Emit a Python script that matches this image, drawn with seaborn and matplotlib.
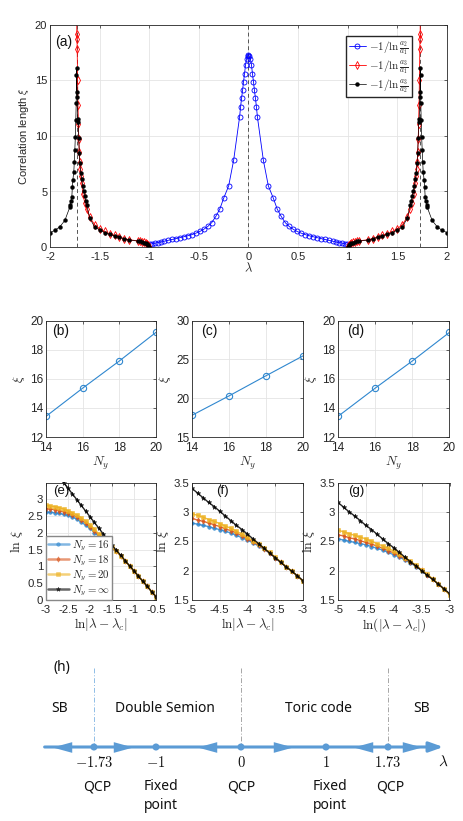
import matplotlib
matplotlib.use("Agg")
import matplotlib.pyplot as plt
from matplotlib.ticker import FuncFormatter
import seaborn as sns

# ---------------- (a) correlation length vs lambda ----------------
lam_blue = [-0.99, -0.97, -0.94, -0.91, -0.88, -0.85, -0.81, -0.77, -0.73, -0.69,
            -0.65, -0.61, -0.57, -0.53, -0.49, -0.45, -0.41, -0.37, -0.33, -0.29,
            -0.25, -0.20, -0.15, -0.09, -0.08, -0.07, -0.06, -0.05, -0.04, -0.03,
            -0.02, -0.01, 0.0, 0.01, 0.02, 0.03, 0.04, 0.05, 0.06, 0.07,
            0.08, 0.09, 0.15, 0.20, 0.25, 0.29, 0.33, 0.37, 0.41, 0.45,
            0.49, 0.53, 0.57, 0.61, 0.65, 0.69, 0.73, 0.77, 0.81, 0.85,
            0.88, 0.91, 0.94, 0.97, 0.99]
xi_blue = [0.25, 0.3, 0.35, 0.4, 0.46, 0.52, 0.6, 0.68, 0.76, 0.85,
           0.93, 1.02, 1.12, 1.25, 1.4, 1.6, 1.85, 2.2, 2.75, 3.4,
           4.4, 5.5, 7.8, 11.7, 12.6, 13.4, 14.1, 14.9, 15.6, 16.4,
           16.9, 17.2, 17.3, 17.2, 16.9, 16.4, 15.6, 14.9, 14.1, 13.4,
           12.6, 11.7, 7.8, 5.5, 4.4, 3.4, 2.75, 2.2, 1.85, 1.6,
           1.4, 1.25, 1.12, 1.02, 0.93, 0.85, 0.76, 0.68, 0.6, 0.52,
           0.46, 0.4, 0.35, 0.3, 0.25]

lam_red_l = [-1.732, -1.73, -1.728, -1.726, -1.722, -1.718, -1.714, -1.71, -1.705, -1.70,
             -1.695, -1.69, -1.68, -1.67, -1.65, -1.63, -1.6, -1.55, -1.5, -1.45,
             -1.4, -1.35, -1.3, -1.25, -1.2, -1.11, -1.09, -1.07, -1.05, -1.03,
             -1.02, -1.01, -1.0]
xi_red_l = [40.0, 19.2, 18.7, 17.8, 15.0, 12.8, 11.1, 9.7, 8.6, 7.7,
            7.0, 6.4, 5.8, 4.8, 4.0, 3.4, 2.7, 2.0, 1.65, 1.4,
            1.2, 1.05, 0.9, 0.76, 0.65, 0.55, 0.52, 0.48, 0.43, 0.36,
            0.28, 0.18, 0.05]
lam_red_r = [1.0, 1.01, 1.02, 1.03, 1.05, 1.07, 1.09, 1.11, 1.2, 1.25,
             1.3, 1.35, 1.4, 1.45, 1.5, 1.55, 1.6, 1.63, 1.65, 1.67,
             1.68, 1.69, 1.695, 1.70, 1.705, 1.71, 1.714, 1.718, 1.722, 1.726,
             1.728, 1.73, 1.732]
xi_red_r = [0.05, 0.18, 0.28, 0.36, 0.43, 0.48, 0.52, 0.55, 0.65, 0.76,
            0.9, 1.05, 1.2, 1.4, 1.65, 2.0, 2.7, 3.4, 4.0, 4.8,
            5.8, 6.4, 7.0, 7.7, 8.6, 9.7, 11.1, 12.8, 15.0, 17.8,
            18.7, 19.2, 40.0]

lam_blk_l = [-2.0, -1.95, -1.90, -1.85, -1.80, -1.795, -1.79, -1.78, -1.775, -1.77,
             -1.76, -1.755, -1.75, -1.745, -1.74, -1.736, -1.733, -1.731, -1.728, -1.725,
             -1.72, -1.715, -1.71, -1.705, -1.70, -1.69, -1.68, -1.67, -1.66, -1.65,
             -1.64, -1.63, -1.6, -1.55, -1.5, -1.45, -1.4, -1.35, -1.3, -1.25,
             -1.2, -1.11, -1.09, -1.07, -1.05, -1.03, -1.02, -1.01, -1.0]
xi_blk_l = [1.3, 1.5, 1.83, 2.4, 3.6, 3.8, 4.1, 4.5, 5.4, 6.0,
            6.8, 7.7, 8.7, 9.9, 11.4, 13.0, 15.5, 16.1, 14.0, 13.5,
            11.5, 11.3, 9.8, 8.5, 7.6, 6.7, 6.1, 5.5, 5.0, 4.6,
            4.1, 3.8, 2.6, 1.8, 1.55, 1.3, 1.15, 1.0, 0.87, 0.73,
            0.62, 0.53, 0.5, 0.45, 0.4, 0.33, 0.25, 0.15, 0.02]
lam_blk_r = [1.0, 1.01, 1.02, 1.03, 1.05, 1.07, 1.09, 1.11, 1.2, 1.25,
             1.3, 1.35, 1.4, 1.45, 1.5, 1.55, 1.6, 1.63, 1.64, 1.65,
             1.66, 1.67, 1.68, 1.69, 1.70, 1.705, 1.71, 1.715, 1.72, 1.725,
             1.728, 1.731, 1.733, 1.736, 1.74, 1.745, 1.75, 1.755, 1.76, 1.77,
             1.775, 1.78, 1.79, 1.795, 1.80, 1.85, 1.90, 1.95, 2.0]
xi_blk_r = [0.02, 0.15, 0.25, 0.33, 0.4, 0.45, 0.5, 0.53, 0.62, 0.73,
            0.87, 1.0, 1.15, 1.3, 1.55, 1.8, 2.6, 3.8, 4.1, 4.6,
            5.0, 5.5, 6.1, 6.7, 7.6, 8.5, 9.8, 11.3, 11.5, 13.5,
            14.0, 16.1, 15.5, 13.0, 11.4, 9.9, 8.7, 7.7, 6.8, 6.0,
            5.4, 4.5, 4.1, 3.8, 3.6, 2.4, 1.83, 1.5, 1.3]
lam_critical = [-1.732, 0.0, 1.732]
legend_a = [r'$-1/\ln\frac{a_2}{a_1}$', r'$-1/\ln\frac{a_3}{a_1}$', r'$-1/\ln\frac{a_3}{a_2}$']

# ---------------- (b)-(d) xi vs Ny ----------------
ny = [14, 16, 18, 20]
xi_b = [13.42, 15.36, 17.23, 19.2]
xi_c = [17.8, 20.3, 22.9, 25.46]
xi_d = [13.42, 15.36, 17.23, 19.2]

# ---------------- (e)-(g) ln xi vs ln|lambda - lambda_c| ----------------
x_e = [-3.0, -2.9, -2.8, -2.7, -2.6, -2.5, -2.4, -2.3, -2.2, -2.1, -2.0, -1.9, -1.8,
       -1.7, -1.6, -1.5, -1.4, -1.3, -1.2, -1.1, -1.0, -0.9, -0.8, -0.7, -0.6, -0.5]
e16 = [2.62, 2.61, 2.60, 2.58, 2.55, 2.52, 2.47, 2.41, 2.32, 2.23, 2.13, 2.01, 1.89,
       1.77, 1.66, 1.55, 1.45, 1.31, 1.16, 1.01, 0.86, 0.71, 0.56, 0.41, 0.25, 0.10]
e18 = [2.72, 2.71, 2.69, 2.66, 2.63, 2.59, 2.54, 2.47, 2.39, 2.29, 2.18, 2.06, 1.93,
       1.80, 1.68, 1.56, 1.45, 1.31, 1.16, 1.01, 0.86, 0.71, 0.56, 0.41, 0.25, 0.10]
e20 = [2.82, 2.80, 2.78, 2.75, 2.71, 2.66, 2.60, 2.53, 2.45, 2.35, 2.24, 2.11, 1.97,
       1.83, 1.70, 1.57, 1.46, 1.31, 1.16, 1.01, 0.86, 0.71, 0.56, 0.41, 0.25, 0.10]
einf = [4.18, 4.01, 3.84, 3.67, 3.50, 3.33, 3.16, 2.99, 2.82, 2.65, 2.48, 2.31, 2.14,
        1.97, 1.80, 1.63, 1.48, 1.33, 1.17, 1.02, 0.87, 0.71, 0.56, 0.41, 0.25, 0.10]

x_fg = [-5.0, -4.9, -4.8, -4.7, -4.6, -4.5, -4.4, -4.3, -4.2, -4.1, -4.0,
        -3.9, -3.8, -3.7, -3.6, -3.5, -3.4, -3.3, -3.2, -3.1, -3.0]
f16 = [2.81, 2.79, 2.77, 2.75, 2.72, 2.70, 2.67, 2.64, 2.60, 2.56, 2.52,
       2.47, 2.42, 2.36, 2.30, 2.22, 2.14, 2.06, 1.99, 1.91, 1.82]
f18 = [2.89, 2.86, 2.84, 2.81, 2.78, 2.75, 2.71, 2.68, 2.64, 2.59, 2.54,
       2.49, 2.43, 2.37, 2.30, 2.22, 2.14, 2.06, 1.99, 1.91, 1.82]
f20 = [2.97, 2.94, 2.91, 2.87, 2.84, 2.80, 2.76, 2.72, 2.67, 2.62, 2.57,
       2.51, 2.45, 2.38, 2.31, 2.23, 2.15, 2.07, 1.99, 1.91, 1.82]
finf = [3.40, 3.32, 3.24, 3.16, 3.09, 3.01, 2.93, 2.85, 2.77, 2.70, 2.62,
        2.54, 2.46, 2.38, 2.30, 2.22, 2.14, 2.06, 1.99, 1.91, 1.83]
g16 = [2.54, 2.52, 2.50, 2.48, 2.46, 2.44, 2.41, 2.38, 2.35, 2.31, 2.27,
       2.23, 2.18, 2.13, 2.07, 2.00, 1.93, 1.85, 1.77, 1.69, 1.60]
g18 = [2.61, 2.59, 2.56, 2.54, 2.51, 2.48, 2.45, 2.42, 2.38, 2.34, 2.30,
       2.25, 2.20, 2.14, 2.08, 2.01, 1.93, 1.85, 1.77, 1.69, 1.60]
g20 = [2.69, 2.66, 2.63, 2.60, 2.57, 2.54, 2.50, 2.46, 2.42, 2.38, 2.33,
       2.28, 2.22, 2.16, 2.09, 2.01, 1.94, 1.86, 1.77, 1.68, 1.59]
ginf = [3.16, 3.08, 3.00, 2.93, 2.85, 2.77, 2.70, 2.62, 2.54, 2.46, 2.39,
        2.31, 2.23, 2.15, 2.08, 2.00, 1.92, 1.85, 1.77, 1.69, 1.61]
ny_labels = [r'$N_y=16$', r'$N_y=18$', r'$N_y=20$', r'$N_y=\infty$']

# ---------------- (h) phase diagram ----------------
h_points = [-1.73, -1, 0, 1, 1.73]
h_ticklabels = [r'$-1.73$', r'$-1$', r'$0$', r'$1$', r'$1.73$']
h_kind = ['QCP', 'Fixed\npoint', 'QCP', 'Fixed\npoint', 'QCP']
h_kind_x = [-1.69, -0.94, 0.0, 1.05, 1.76]
h_phases = ['SB', 'Double Semion', 'Toric code', 'SB']
h_phase_x = [-2.14, -0.89, 0.91, 2.12]
h_flow_left = [-2.1, -0.4, 1.44]
h_flow_right = [-1.39, 0.49, 2.01]

sns.set_theme(style="whitegrid")
plt.rcParams['font.family'] = ['Liberation Sans', 'DejaVu Sans']
plt.rcParams['mathtext.fontset'] = 'cm'
plt.rcParams['axes.unicode_minus'] = False

W, H = 464, 821
fig = plt.figure(figsize=(W / 100, H / 100), dpi=100)
fig.patch.set_facecolor('white')


def px_axes(l, t, r, b):
    return fig.add_axes([l / W, 1 - b / H, (r - l) / W, (b - t) / H])


def matlab_style(ax, fs=8.5):
    ax.set_facecolor('white')
    ax.grid(True, color='#e4e4e4', linewidth=0.6)
    ax.set_axisbelow(True)
    for s in ax.spines.values():
        s.set_visible(True)
        s.set_color('#262626')
        s.set_linewidth(0.6)
    ax.tick_params(direction='in', top=True, right=True, length=2.5, width=0.5,
                   labelsize=fs, colors='#262626', pad=2)
    ax.tick_params(axis='x', pad=3.5)
    fmt = FuncFormatter(lambda v, p: f'{v:g}')
    ax.xaxis.set_major_formatter(fmt)
    ax.yaxis.set_major_formatter(fmt)


MBLUE = '#2f87cf'
MORANGE = '#D95319'
MYELLOW = '#EDB120'

# ---- panel (a)
ax = px_axes(50, 25, 447, 247)
for xc in lam_critical:
    ax.axvline(xc, color='#555555', lw=0.7, dashes=(4, 3), zorder=1)
sns.lineplot(x=lam_blue, y=xi_blue, ax=ax, sort=False, estimator=None, color='blue',
             lw=0.6, marker='o', markersize=3.6, markerfacecolor='none',
             markeredgecolor='blue', markeredgewidth=0.6, label=legend_a[0])
for lx, ly, lab in [(lam_red_l, xi_red_l, legend_a[1]), (lam_red_r, xi_red_r, None)]:
    sns.lineplot(x=lx, y=ly, ax=ax, sort=False, estimator=None, color='red', lw=0.6,
                 marker='d', markersize=4, markerfacecolor='none', markeredgecolor='red',
                 markeredgewidth=0.6, label=lab)
for lx, ly, lab in [(lam_blk_l, xi_blk_l, legend_a[2]), (lam_blk_r, xi_blk_r, None)]:
    sns.lineplot(x=lx, y=ly, ax=ax, sort=False, estimator=None, color='black', lw=0.5,
                 marker='o', markersize=2.8, markerfacecolor='black',
                 markeredgecolor='black', markeredgewidth=0.3, label=lab)
ax.set_xlim(-2, 2)
ax.set_ylim(0, 20)
ax.set_xticks([-2, -1.5, -1, -0.5, 0, 0.5, 1, 1.5, 2])
ax.set_yticks([0, 5, 10, 15, 20])
matlab_style(ax, fs=8)
ax.set_xlabel(r'$\lambda$', fontsize=9, labelpad=0, color='#262626')
ax.set_ylabel(r'Correlation length $\xi$', fontsize=8, labelpad=3, color='#262626')
h, l = ax.get_legend_handles_labels()
ax.legend(h[:3], l[:3], loc='upper left', bbox_to_anchor=(0.732, 0.975), fontsize=8,
          frameon=True, fancybox=False, edgecolor='#262626', framealpha=1,
          borderpad=0.25, handlelength=1.5, labelspacing=0.1, handletextpad=0.3)
ax.text(0.013, 0.923, '(a)', transform=ax.transAxes, fontsize=10, va='center', color='#111111')

# ---- panels (b)-(d)
cols = [(46, 156), (192, 303), (338, 449.5)]
for (l, r), vals, ylim, yt, tag, tx in [
        (cols[0], xi_b, (12, 20), [12, 14, 16, 18, 20], '(b)', 0.057),
        (cols[1], xi_c, (15, 30), [15, 20, 25, 30], '(c)', 0.078),
        (cols[2], xi_d, (12, 20), [12, 14, 16, 18, 20], '(d)', 0.08)]:
    ax = px_axes(l, 320.7, r, 437)
    sns.lineplot(x=ny, y=vals, ax=ax, color=MBLUE, lw=0.8, marker='o', markersize=4.5,
                 markerfacecolor='none', markeredgecolor=MBLUE, markeredgewidth=0.8)
    ax.set_xlim(14, 20)
    ax.set_ylim(*ylim)
    ax.set_xticks([14, 16, 18, 20])
    ax.set_yticks(yt)
    matlab_style(ax)
    ax.set_xlabel(r'$N_y$', fontsize=9.5, labelpad=1)
    ax.set_ylabel(r'$\xi$', fontsize=9.5, labelpad=2)
    ax.text(tx, 0.914, tag, transform=ax.transAxes, fontsize=10, va='center', color='#111111')

# ---- panels (e)-(g)
series_style = [(MBLUE, 'o', 2.6), (MORANGE, 'd', 2.8), (MYELLOW, 's', 2.4), ('black', '*', 3.4)]
panels = [
    (cols[0], x_e, [e16, e18, e20, einf], (-3, -0.5), [-3, -2.5, -2, -1.5, -1, -0.5],
     (0, 3.5), [0, 0.5, 1, 1.5, 2, 2.5, 3], '(e)', 0.064, r'$\ln|\lambda-\lambda_c|$'),
    (cols[1], x_fg, [f16, f18, f20, finf], (-5, -3), [-5, -4.5, -4, -3.5, -3],
     (1.5, 3.5), [1.5, 2, 2.5, 3, 3.5], '(f)', 0.22, r'$\ln|\lambda-\lambda_c|$'),
    (cols[2], x_fg, [g16, g18, g20, ginf], (-5, -3), [-5, -4.5, -4, -3.5, -3],
     (1.5, 3.5), [1.5, 2, 2.5, 3, 3.5], '(g)', 0.087, r'$\ln(|\lambda-\lambda_c|)$'),
]
for (l, r), xs, ys, xlim, xt, ylim, yt, tag, tx, xlab in panels:
    ax = px_axes(l, 482.5, r, 600)
    for vals, (c, m, ms), lab in zip(ys, series_style, ny_labels):
        sns.lineplot(x=xs, y=vals, ax=ax, color=c, lw=1.0, alpha=0.85, marker=m,
                     markersize=ms, markerfacecolor=c, markeredgecolor=c,
                     markeredgewidth=0.4, label=lab, legend=False)
    ax.set_xlim(*xlim)
    ax.set_ylim(*ylim)
    ax.set_xticks(xt)
    ax.set_yticks(yt)
    matlab_style(ax, fs=8.2)
    ax.set_xlabel(xlab, fontsize=9.5, labelpad=1)
    ax.set_ylabel(r'$\ln\,\xi$', fontsize=10, labelpad=2)
    ax.text(tx, 0.926, tag, transform=ax.transAxes, fontsize=9.5, va='center', color='#111111')
    if tag == '(e)':
        hh, ll = ax.get_legend_handles_labels()
        leg = ax.legend(hh, ny_labels, loc='lower left', bbox_to_anchor=(0, 0), fontsize=7.8,
                        frameon=True, fancybox=False, edgecolor='#888888', framealpha=1,
                        borderpad=0.2, borderaxespad=0, handlelength=1.9, labelspacing=0.05,
                        handletextpad=0.3)
        for lh in leg.get_lines():
            lh.set_linewidth(1.8)
            lh.set_alpha(0.6)
    elif ax.get_legend() is not None:
        ax.get_legend().remove()

# ---- panel (h)
axh = px_axes(0, 640, W, H)
axh.set_xlim(-2.835, 2.624)
axh.set_ylim(H, 640)
axh.axis('off')
line_c = '#5b9bd5'
axh.vlines([h_points[0]], 668, 747, colors='#8fbde6', lw=0.7, linestyles=(0, (5, 2, 1, 2)))
axh.vlines([h_points[2], h_points[4]], 668, 747, colors='#a6a6a6', lw=0.7,
           linestyles=(0, (5, 2, 1, 2)))
axh.annotate('', xy=(2.38, 747), xytext=(-2.31, 747),
             arrowprops=dict(arrowstyle='-|>,head_length=0.7,head_width=0.25', color=line_c,
                             lw=2.2, shrinkA=0, shrinkB=0), zorder=2)
right_tri = [(-1, -0.55), (1, 0), (-1, 0.55), (-1, -0.55)]
left_tri = [(1, -0.55), (-1, 0), (1, 0.55), (1, -0.55)]
axh.plot(h_flow_right, [747] * len(h_flow_right), ls='none', marker=right_tri, ms=14,
         color=line_c, mew=0, zorder=4)
axh.plot(h_flow_left, [747] * len(h_flow_left), ls='none', marker=left_tri, ms=14,
         color=line_c, mew=0, zorder=4)
sns.scatterplot(x=h_points, y=[747] * len(h_points), ax=axh, color=line_c, s=26,
                edgecolor='none', zorder=5)
for xp, lab in zip(h_points, h_ticklabels):
    axh.text(xp, 762, lab, ha='center', va='center', fontsize=10.5, color='#111111')
for xp, lab in zip(h_kind_x, h_kind):
    axh.text(xp, 779, lab, ha='center', va='top', fontsize=10, linespacing=1.35,
             family=['Noto Sans', 'DejaVu Sans'], color='#111111')
for xp, lab in zip(h_phase_x, h_phases):
    axh.text(xp, 708, lab, ha='center', va='center', fontsize=10,
             family=['Noto Sans', 'DejaVu Sans'], color='#111111')
axh.text(2.38, 762, r'$\lambda$', ha='center', va='center', fontsize=11, color='#111111')
axh.text(-2.21, 667, '(h)', ha='left', va='center', fontsize=10,
         family=['Noto Sans', 'DejaVu Sans'], color='#111111')

fig.savefig('out.png', dpi=100, facecolor='white')
